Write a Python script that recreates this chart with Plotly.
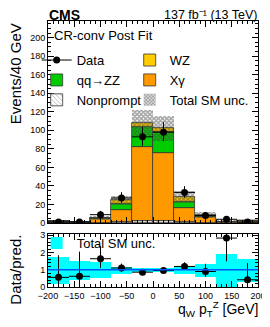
import plotly.graph_objects as go
import numpy as np

# ---------------- data ----------------
bin_centers = [-180, -140, -100, -60, -20, 20, 60, 100, 140, 180]
bin_width = 40
nonprompt = [0.2, 0.2, 0.4, 0.8, 2.0, 2.0, 0.8, 0.4, 0.1, 0.2]
xgamma = [1.2, 1.05, 3.6, 12.9, 80.0, 73.5, 15.8, 6.0, 1.0, 1.6]
qqzz = [0.25, 0.22, 1.1, 7.3, 21.5, 22.3, 6.1, 1.6, 0.2, 0.4]
wz = [0.14, 0.14, 0.39, 3.5, 4.6, 4.2, 5.0, 0.9, 0.11, 0.18]
unc_rel = [0.77, 0.55, 0.45, 0.20, 0.13, 0.13, 0.24, 0.38, 0.96, 0.67]
data = [1, 1, 9, 27, 93, 98, 33, 8, 4, 1]
data_err_lo = [0.83, 0.83, 2.94, 5.17, 9.63, 9.89, 5.72, 2.77, 1.91, 0.83]
data_err_hi = [2.30, 2.30, 4.11, 6.24, 10.68, 10.94, 6.79, 3.96, 3.16, 2.30]

x_ticks = [-200, -150, -100, -50, 0, 50, 100, 150, 200]
y_ticks_main = [0, 20, 40, 60, 80, 100, 120, 140, 160, 180, 200]
y_ticks_ratio = [0, 1, 2, 3]

# ---------------- derived ----------------
comp = [("Nonprompt", nonprompt), ("Xγ", xgamma), ("qq→ZZ", qqzz), ("WZ", wz)]
pred = np.sum([np.array(v) for _, v in comp], axis=0)
unc_abs = pred * np.array(unc_rel)
ratio = np.array(data) / pred
r_lo = np.array(data_err_lo) / pred
r_hi = np.array(data_err_hi) / pred

FONT = "Liberation Sans, Arial, sans-serif"
fig = go.Figure()

styles = {
    "Nonprompt": dict(color="white", pattern=dict(shape="\\", fgcolor="#555555", bgcolor="white", size=4, solidity=0.25)),
    "Xγ": dict(color="#ff9900"),
    "qq→ZZ": dict(color="#00cc00"),
    "WZ": dict(color="#ffcc00"),
}
# legend placement: left column = legend, right column = legend3
leg_of = {"Nonprompt": "legend", "Xγ": "legend3", "qq→ZZ": "legend", "WZ": "legend3"}
ranks = {"Nonprompt": 3, "Xγ": 2, "qq→ZZ": 2, "WZ": 1}

base = np.zeros(len(bin_centers))
for name, vals in comp:
    st = dict(styles[name])
    st["line"] = dict(color="#333333", width=0.8)
    fig.add_trace(go.Bar(x=bin_centers, y=vals, base=base.copy(), width=bin_width,
                         name=name, marker=st, legendrank=ranks[name],
                         xaxis="x", yaxis="y", legend=leg_of[name]))
    base = base + np.array(vals)

# total uncertainty band (main)
fig.add_trace(go.Bar(x=bin_centers, y=2 * unc_abs, base=pred - unc_abs, width=bin_width,
                     name="Total SM unc.", legendrank=3,
                     marker=dict(color="rgba(0,0,0,0)", line=dict(width=0),
                                 pattern=dict(shape="x", fgcolor="#444444", bgcolor="rgba(0,0,0,0)",
                                              size=3, solidity=0.7)),
                     xaxis="x", yaxis="y", legend="legend3"))

# data
fig.add_trace(go.Scatter(x=bin_centers, y=data, mode="markers", name="Data", showlegend=False,
                         marker=dict(color="black", size=7),
                         error_y=dict(type="data", symmetric=False, array=data_err_hi,
                                      arrayminus=data_err_lo, color="black", thickness=1, width=0),
                         error_x=dict(type="constant", value=bin_width / 2, color="black", thickness=1, width=0),
                         xaxis="x", yaxis="y"))
# legend entry for data (marker + bin-width bar)
fig.add_trace(go.Scatter(x=[None], y=[None], mode="lines+markers", name="Data", legendrank=1,
                         marker=dict(color="black", size=7), line=dict(color="black", width=1),
                         xaxis="x", yaxis="y", legend="legend"))

# ratio band
fig.add_trace(go.Bar(x=bin_centers, y=2 * np.array(unc_rel), base=1 - np.array(unc_rel), width=bin_width,
                     name="Total SM unc.", marker=dict(color="#00ffff", line=dict(width=0)),
                     xaxis="x2", yaxis="y2", legend="legend2"))
fig.add_shape(type="line", xref="x2 domain", yref="y2", x0=0, x1=1, y0=1, y1=1,
              line=dict(color="#0055ff", width=1.5))
fig.add_trace(go.Scatter(x=bin_centers, y=ratio, mode="markers", showlegend=False,
                         marker=dict(color="black", size=7),
                         error_y=dict(type="data", symmetric=False, array=r_hi, arrayminus=r_lo,
                                      color="black", thickness=1, width=0),
                         error_x=dict(type="constant", value=bin_width / 2, color="black", thickness=1, width=0),
                         xaxis="x2", yaxis="y2"))

axis_common = dict(showline=True, linecolor="black", linewidth=1, mirror="allticks",
                   ticks="inside", ticklen=6, tickcolor="black", showgrid=False, zeroline=False,
                   tickfont=dict(family=FONT, size=9, color="black"))

leg_common = dict(xanchor="left", yanchor="top", orientation="v", bgcolor="rgba(0,0,0,0)",
                  font=dict(family=FONT, size=13), traceorder="normal", itemwidth=30)

# The page body adds an 8 px offset; the figure is sized so it ends exactly at the window edge.
fig.update_layout(
    width=262, height=319, barmode="overlay", bargap=0,
    margin=dict(l=40, r=12, t=13, b=40, autoexpand=False),
    paper_bgcolor="white", plot_bgcolor="white",
    font=dict(family=FONT, color="black"),
    xaxis=dict(**axis_common, domain=[0, 1], range=[-200, 200], tickvals=x_ticks, showticklabels=False,
               anchor="y", minor=dict(dtick=10, ticks="inside", ticklen=3, tickcolor="black")),
    yaxis=dict(**axis_common, domain=[0.2406, 1], range=[0, 218], tickvals=y_ticks_main, anchor="x",
               minor=dict(dtick=5, ticks="inside", ticklen=3, tickcolor="black")),
    xaxis2=dict(**axis_common, domain=[0, 1], range=[-200, 200], tickvals=x_ticks, anchor="y2",
                matches="x",
                minor=dict(dtick=10, ticks="inside", ticklen=3, tickcolor="black")),
    yaxis2=dict(**axis_common, domain=[0, 0.201], range=[0, 3.1], tickvals=y_ticks_ratio, anchor="x2",
                minor=dict(dtick=0.2, ticks="inside", ticklen=3, tickcolor="black")),
    legend=dict(**leg_common, x=-0.054, y=0.9095),
    legend3=dict(**leg_common, x=0.389, y=0.9095),
    legend2=dict(**leg_common, x=-0.054, y=0.222),
    annotations=[
        dict(text="CR-conv Post Fit", xref="paper", yref="paper", x=0.02, y=(287 - 36) / 266,
             xanchor="left", yanchor="middle", showarrow=False, font=dict(family=FONT, size=13)),
        dict(text="<b>CMS</b>", xref="paper", yref="paper", x=0.0, y=(287 - 23.8) / 266, xanchor="left",
             yanchor="bottom", borderpad=0, showarrow=False, font=dict(family=FONT, size=14)),
        dict(text="137 fb⁻¹ (13 TeV)", xref="paper", yref="paper", x=1.0, y=(287 - 23.4) / 266,
             xanchor="right", yanchor="bottom", borderpad=0, showarrow=False, font=dict(family=FONT, size=12.5)),
        dict(text="Events/40 GeV", xref="paper", yref="paper", x=-0.154, y=1.0, textangle=-90,
             xanchor="center", yanchor="top", showarrow=False, font=dict(family=FONT, size=15)),
        dict(text="Data/pred.", xref="paper", yref="paper", x=-0.154, y=0.064, textangle=-90,
             xanchor="center", yanchor="middle", showarrow=False, font=dict(family=FONT, size=15)),
        dict(text="q<sub>W</sub> p<sub>T</sub><sup>Z</sup> [GeV]", xref="paper", yref="paper",
             x=1.01, y=-0.083, xanchor="right", yanchor="middle", showarrow=False,
             font=dict(family=FONT, size=14)),
    ],
)

fig.write_html("out.html")
